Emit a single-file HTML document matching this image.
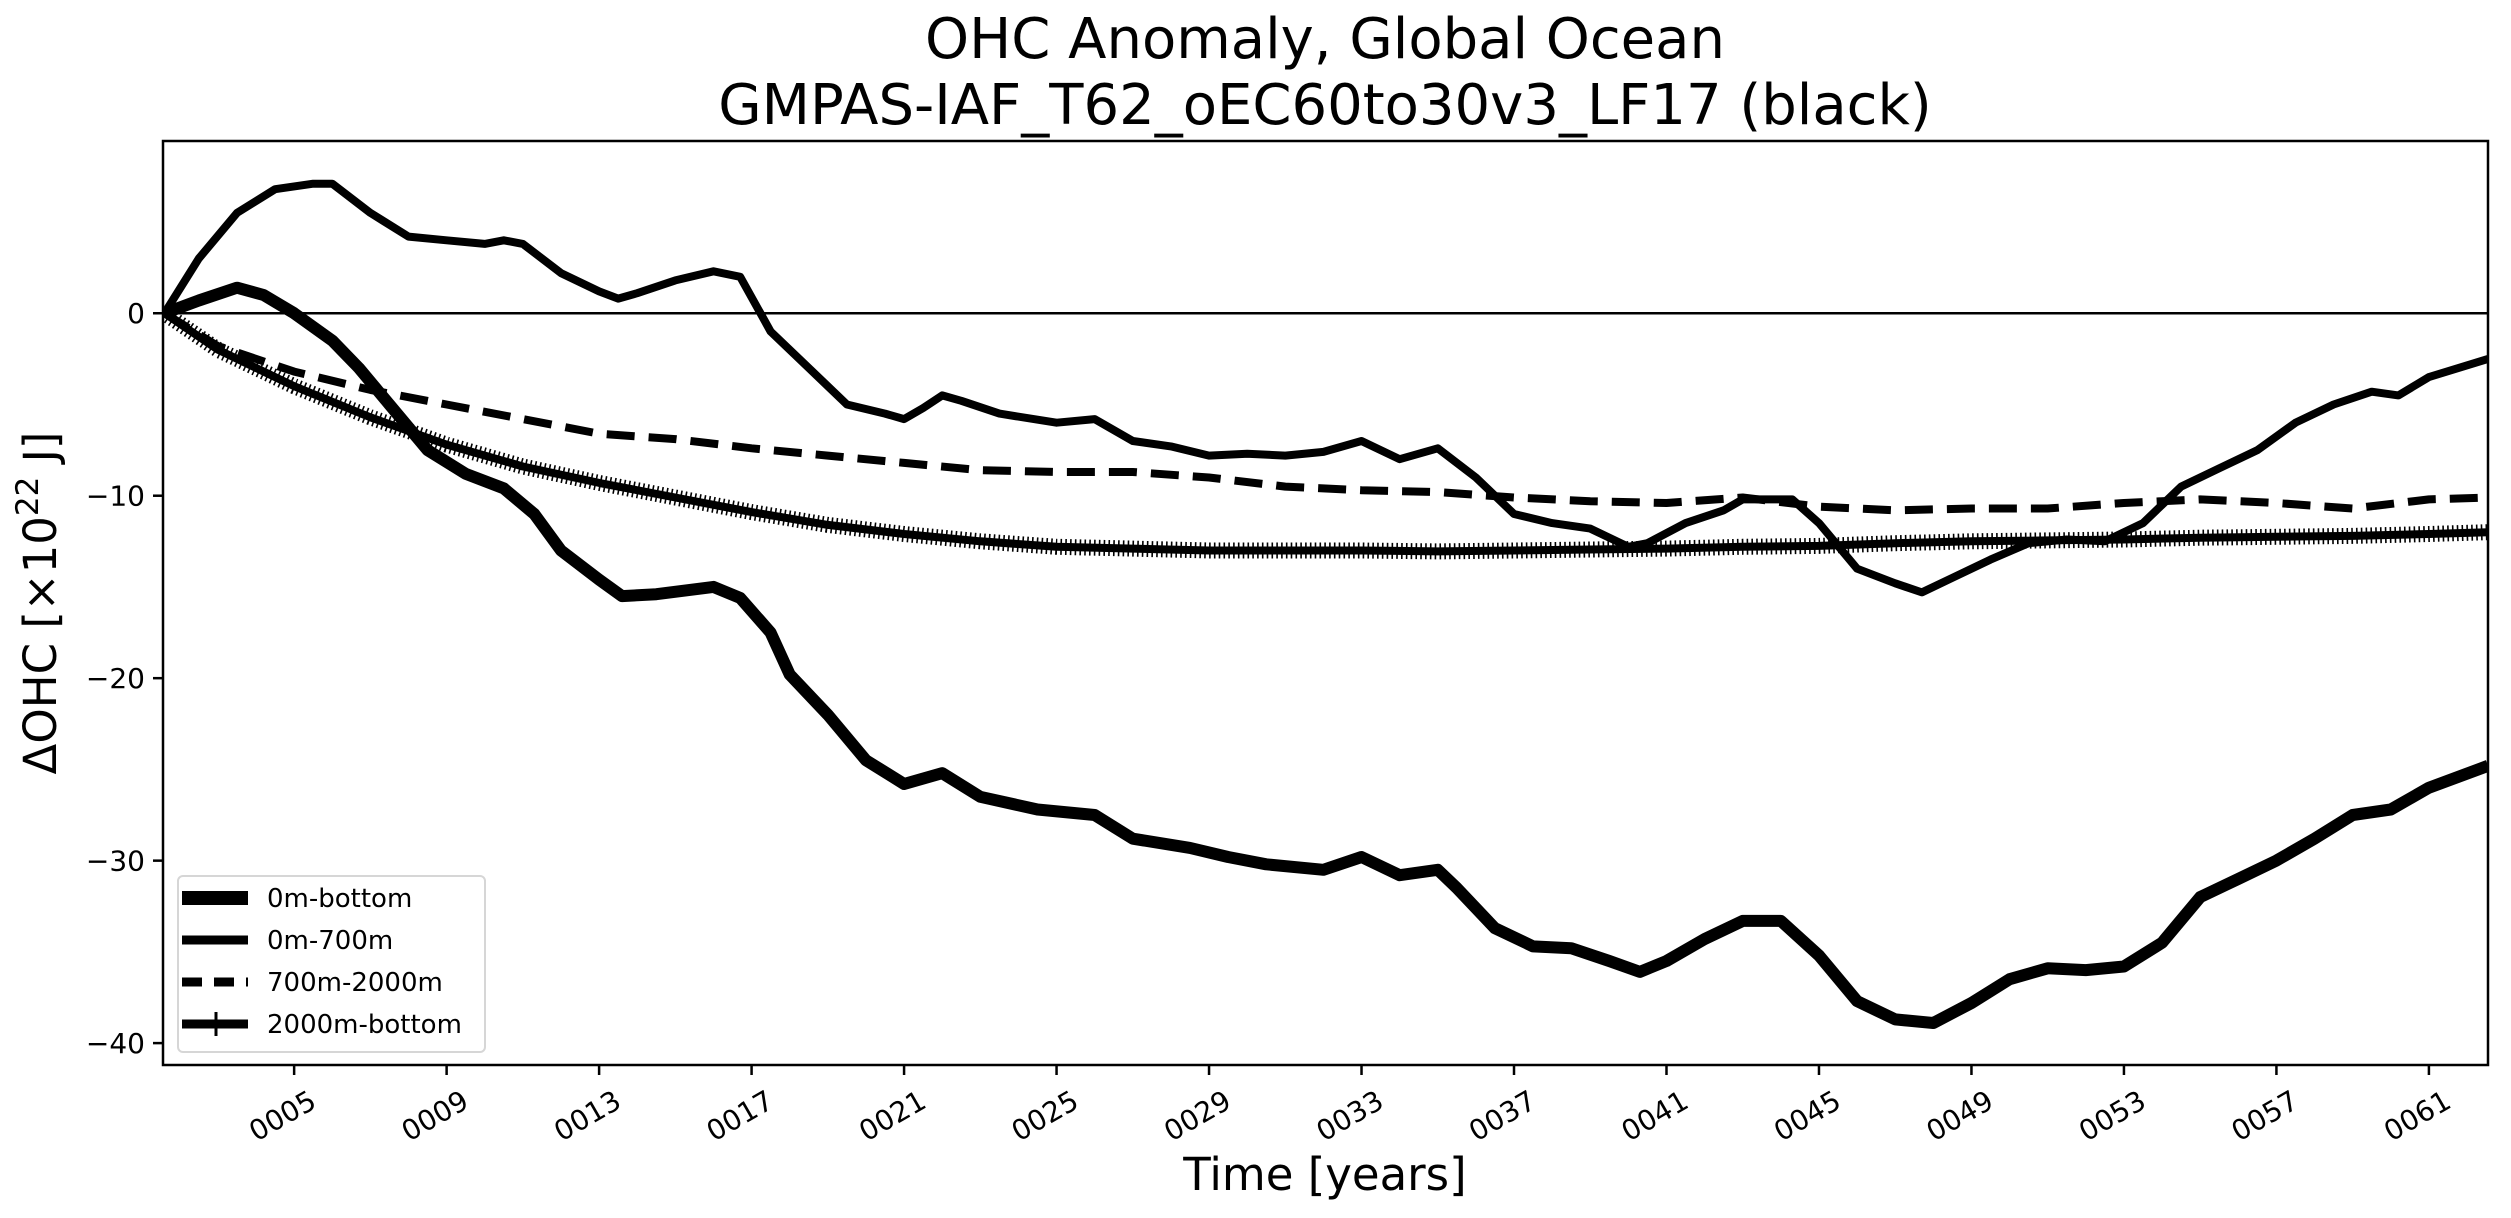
<!DOCTYPE html>
<html><head><meta charset="utf-8"><style>
html,body{margin:0;padding:0;background:#fff;}
svg{display:block;font-family:"DejaVu Sans","Liberation Sans",sans-serif;}
</style></head><body>
<svg id="chart" width="2511" height="1218" viewBox="0 0 2511 1218">
<text x="1325" y="58" font-size="56" text-anchor="middle">OHC Anomaly, Global Ocean</text>
<text x="1325" y="124" font-size="56" text-anchor="middle">GMPAS-IAF_T62_oEC60to30v3_LF17 (black)</text>
<text x="1325" y="1190" font-size="45" text-anchor="middle">Time [years]</text>
<text transform="translate(56,603) rotate(-90)" font-size="45" text-anchor="middle">ΔOHC [×10<tspan dy="-18" font-size="31">22</tspan><tspan dy="18"> J]</tspan></text>
<g id="plot"></g>
</svg>
<script>
const xTicks=[5,9,13,17,21,25,29,33,37,41,45,49,53,57,61];
const yTicks=[0,-10,-20,-30,-40];
const tBottomYears=[1.6,2.5,3.5,4.2,5,6,6.7,7.5,8.5,9.5,10.5,11.3,12,13,13.6,14.5,16,16.7,17.5,18,19,20,21,22,23,24.5,26,27,28.5,29.5,30.5,32,33,34,35,35.5,36.5,37.5,38.5,39.5,40.3,41,42,43,44,45,46,47,48,49,50,51,52,53,54,55,56,57,58,59,60,61,62.55];
const s0mBottom=[0,0.7,1.4,1.0,0,-1.5,-3,-5,-7.5,-8.8,-9.6,-11,-13,-14.6,-15.5,-15.4,-15.0,-15.6,-17.5,-19.8,-22,-24.5,-25.8,-25.2,-26.5,-27.2,-27.5,-28.8,-29.3,-29.8,-30.2,-30.5,-29.8,-30.8,-30.5,-31.5,-33.7,-34.7,-34.8,-35.5,-36.1,-35.5,-34.3,-33.3,-33.3,-35.2,-37.7,-38.7,-38.9,-37.8,-36.5,-35.9,-36.0,-35.8,-34.5,-32.0,-31.0,-30.0,-28.8,-27.5,-27.2,-26.0,-24.8];
const t700Years=[1.6,2.5,3.5,4.5,5.5,6,7,8,9,10,10.5,11,12,13,13.5,14,15,16,16.7,17.5,18.5,19.5,20.5,21,21.5,22,22.5,23.5,25,26,27,28,29,30,31,32,33,34,35,36,37,38,39,40,40.5,41.5,42.5,43,44.3,45,46,47,47.7,48.5,49.5,50.5,51.5,52.5,53.5,54.5,55.5,56.5,57.5,58.5,59.5,60.2,61,62.55];
const s0m700m=[0,3,5.5,6.8,7.1,7.1,5.5,4.2,4.0,3.8,4.0,3.8,2.2,1.2,0.8,1.1,1.8,2.3,2.0,-1.0,-3.0,-5.0,-5.5,-5.8,-5.2,-4.5,-4.8,-5.5,-6.0,-5.8,-7.0,-7.3,-7.8,-7.7,-7.8,-7.6,-7.0,-8.0,-7.4,-9.0,-11.0,-11.5,-11.8,-12.8,-12.6,-11.5,-10.8,-10.2,-10.2,-11.5,-14.0,-14.8,-15.3,-14.5,-13.5,-12.6,-12.4,-12.5,-11.5,-9.5,-8.5,-7.5,-6.0,-5.0,-4.3,-4.5,-3.5,-2.5];
const tDeepYears=[1.6,3,5,7,9,11,13,15,17,19,21,23,25,27,29,31,33,35,37,39,41,43,45,47,49,51,53,55,57,59,61,62.55];
const s700m2000m=[0,-1.8,-3.2,-4.2,-5.0,-5.8,-6.6,-6.9,-7.4,-7.8,-8.2,-8.6,-8.7,-8.7,-9.0,-9.5,-9.7,-9.8,-10.1,-10.3,-10.4,-10.1,-10.6,-10.8,-10.7,-10.7,-10.4,-10.2,-10.4,-10.7,-10.2,-10.1];
const s2000mBottom=[0,-2.0,-4.0,-5.7,-7.2,-8.4,-9.3,-10.1,-10.9,-11.6,-12.1,-12.5,-12.8,-12.9,-13.0,-13.0,-13.0,-13.05,-13.0,-12.95,-12.9,-12.8,-12.75,-12.6,-12.5,-12.45,-12.4,-12.3,-12.25,-12.2,-12.1,-12.0];

const L=163,R=2488,T=141,B=1065;
const x0=1.56,x1=62.55,y0=9.44,y1=-41.2;
const X=v=>L+(v-x0)/(x1-x0)*(R-L);
const Y=v=>T+(y0-v)/(y0-y1)*(B-T);
const NS='http://www.w3.org/2000/svg';
const g=document.getElementById('plot');
function mk(tag,attrs,parent){const e=document.createElementNS(NS,tag);for(const k in attrs)e.setAttribute(k,attrs[k]);(parent||g).appendChild(e);return e;}
function pathD(xs,ys){return xs.map((v,i)=>(i?'L':'M')+X(v).toFixed(1)+','+Y(ys[i]).toFixed(1)).join(' ');}

const clip=mk('clipPath',{id:'pc'});mk('rect',{x:L,y:T,width:R-L,height:B-T},clip);
const zl=mk('line',{x1:L,x2:R,y1:Y(0),y2:Y(0),stroke:'#000','stroke-width':2.5});



const lines=[
 {n:'series-0m-bottom',xs:tBottomYears,ys:s0mBottom,w:12,d:''},
 {n:'series-0m-700m',xs:t700Years,ys:s0m700m,w:8,d:''},
 {n:'series-700m-2000m',xs:tDeepYears,ys:s700m2000m,w:8,d:'28 14'},
 {n:'series-2000m-bottom',xs:tDeepYears,ys:s2000mBottom,w:8,d:''}
];
lines.forEach(s=>{
 const p=mk('path',{d:pathD(s.xs,s.ys),fill:'none',stroke:'#000','stroke-width':s.w,'stroke-linejoin':'round','clip-path':'url(#pc)'});
 if(s.d)p.setAttribute('stroke-dasharray',s.d);
 
 
});
const mp=mk('path',{d:pathD(tDeepYears,s2000mBottom),fill:'none',stroke:'#000','stroke-width':16,'stroke-dasharray':'1.6 3.2','clip-path':'url(#pc)'});



const fr=mk('rect',{x:L,y:T,width:R-L,height:B-T,fill:'none',stroke:'#000','stroke-width':2.5});



xTicks.forEach(v=>{
 const x=X(v);
 const t=mk('line',{x1:x,x2:x,y1:B,y2:B+10,stroke:'#000','stroke-width':2.5});
 
 
 const lb=mk('text',{'font-size':28,'text-anchor':'end',transform:`translate(${x+14},${B+24}) rotate(-30)`});
 
 
 lb.setAttribute('dy','20');
 lb.textContent=String(v).padStart(4,'0');
});
yTicks.forEach(v=>{
 const y=Y(v);
 const t=mk('line',{x1:L-10,x2:L,y1:y,y2:y,stroke:'#000','stroke-width':2.5});
 
 
 const lb=mk('text',{x:L-18,y:y+10,'font-size':28,'text-anchor':'end'});
 
 
 lb.textContent=v<0?'\u2212'+(-v):String(v);
});

const lg=mk('g',{});


mk('rect',{x:178,y:876,width:307,height:176,rx:5,fill:'#fff',stroke:'#d6d6d6','stroke-width':2},lg);
const items=[['0m-bottom',14,''],['0m-700m',9,''],['700m-2000m',9,'20 12'],['2000m-bottom',9,'']];
items.forEach((it,i)=>{
 const y=898+i*42;
 const ln=mk('line',{x1:182,x2:248,y1:y,y2:y,stroke:'#000','stroke-width':it[1]},lg);
 if(it[2])ln.setAttribute('stroke-dasharray',it[2]);
 
 
 if(i===3){const pl=mk('line',{x1:216,x2:216,y1:y-12,y2:y+12,stroke:'#000','stroke-width':3},lg);
  
  }
 const tx=mk('text',{x:267,y:y+9,'font-size':26},lg);
 
 
 tx.textContent=it[0];
});
</script>
</body></html>
